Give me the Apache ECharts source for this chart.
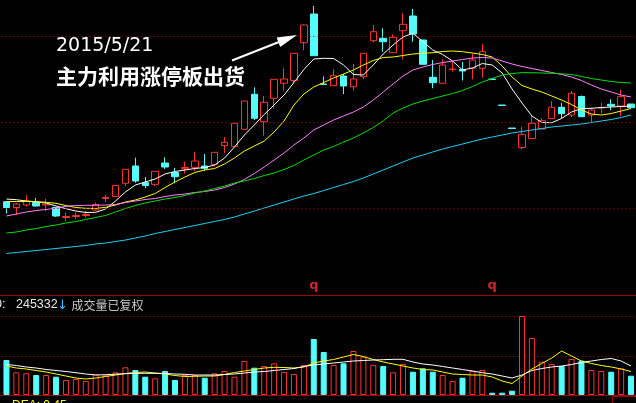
<!DOCTYPE html>
<html>
<head>
<meta charset="utf-8">
<script src="https://cdn.jsdelivr.net/npm/echarts@6/dist/echarts.min.js"></script>
<style>
html,body{margin:0;padding:0;background:#000;overflow:hidden;}
#c{width:636px;height:403px;}
</style>
</head>
<body>
<div id="c"></div>
<script>
// ---------------- data ----------------
const dates = ['2015/4/8','2015/4/9','2015/4/10','2015/4/13','2015/4/14','2015/4/15','2015/4/16','2015/4/17','2015/4/20','2015/4/21',
'2015/4/22','2015/4/23','2015/4/24','2015/4/27','2015/4/28','2015/4/29','2015/4/30','2015/5/4','2015/5/5','2015/5/6',
'2015/5/7','2015/5/8','2015/5/11','2015/5/12','2015/5/13','2015/5/14','2015/5/15','2015/5/18','2015/5/19','2015/5/20',
'2015/5/21','2015/5/22','2015/5/25','2015/5/26','2015/5/27','2015/5/28','2015/5/29','2015/6/1','2015/6/2','2015/6/3',
'2015/6/4','2015/6/5','2015/6/8','2015/6/9','2015/6/10','2015/6/11','2015/6/12','2015/6/15','2015/6/16','2015/6/17',
'2015/6/18','2015/6/19','2015/6/23','2015/6/24','2015/6/25','2015/6/26','2015/6/29','2015/6/30','2015/7/1','2015/7/2',
'2015/7/3','2015/7/6','2015/7/7','2015/7/8'];

// [open, close, low, high]
const ohlc = [
[9.83,9.25,8.65,9.83],[9.25,9.60,8.50,9.70],[9.50,9.90,9.35,10.50],[9.75,9.40,9.35,10.20],[9.50,9.60,8.90,10.10],
[9.25,8.40,8.30,9.30],[8.25,8.35,7.90,8.75],[8.35,8.45,8.10,8.75],[8.45,8.55,8.25,8.95],[9.00,9.55,8.90,9.75],
[10.15,10.25,9.80,10.50],[10.35,11.45,10.30,11.50],[11.67,13.07,11.40,13.10],[13.40,11.90,11.73,14.23],[11.73,11.45,11.17,12.30],
[11.57,12.87,11.40,12.90],[13.70,13.30,13.10,14.27],[12.75,12.33,11.67,13.20],[13.13,13.25,12.67,13.83],[13.27,13.90,12.90,14.77],
[13.40,13.17,12.93,14.60],[13.55,14.77,13.35,14.80],[15.45,15.77,14.67,16.30],[15.33,17.67,15.30,17.70],[17.07,19.90,17.05,19.90],
[20.57,18.17,18.00,21.27],[17.83,19.77,16.43,20.40],[20.17,22.07,19.15,22.10],[21.67,22.10,20.93,23.17],[21.95,24.67,21.60,24.70],
[25.73,27.50,25.00,27.55],[28.60,24.43,24.43,29.40],[21.60,21.55,21.50,22.35],[21.43,22.43,21.40,23.10],[22.40,21.40,20.60,22.60],
[21.33,22.10,20.93,23.60],[22.33,24.67,22.10,24.70],[25.93,26.83,25.77,27.50],[26.17,25.83,24.83,27.17],[24.73,26.27,24.73,26.57],
[26.93,27.57,24.07,28.70],[28.40,26.60,25.83,29.10],[26.00,23.57,23.57,26.00],[22.27,21.73,21.17,24.00],[21.67,23.50,21.67,24.07],
[23.05,23.10,22.83,23.85],[23.05,22.90,21.95,23.80],[23.17,24.00,22.07,24.67],[23.17,24.83,22.25,25.60],[22.10,22.05,22.05,22.10],
[19.50,19.45,19.45,19.50],[17.20,17.15,17.15,17.20],[15.25,16.57,15.10,17.33],[16.15,17.67,16.10,18.50],[17.10,17.93,17.10,18.17],
[18.15,19.27,18.15,19.90],[19.27,18.63,18.17,19.73],[18.50,20.67,18.27,20.90],[20.35,18.33,18.33,20.45],[18.50,19.00,17.70,19.25],
[19.20,19.25,18.67,19.70],[19.57,19.40,19.00,20.07],[19.40,20.33,18.40,21.00],[19.60,19.23,19.20,19.60]
];

const ma5 = [10.10,10.03,9.90,9.83,9.70,9.40,9.13,8.90,8.75,8.77,
9.10,9.90,10.80,11.50,11.80,12.10,12.60,12.85,13.00,13.15,
13.25,13.50,14.20,15.30,16.50,17.50,18.55,19.50,20.50,21.75,
23.05,24.10,24.17,24.15,23.50,22.55,22.50,23.50,24.60,25.50,
26.30,26.67,25.85,25.00,24.55,23.90,23.00,23.20,23.65,23.50,
22.70,21.10,19.70,18.40,17.75,17.73,18.15,18.80,19.15,19.17,
19.25,19.30,19.35,19.40];
const ma10 = [9.85,9.85,9.85,9.83,9.77,9.67,9.45,9.25,9.17,9.15,
9.27,9.50,9.80,10.00,10.30,10.65,11.25,11.80,12.30,12.75,
13.00,13.15,13.60,14.20,14.90,15.40,15.90,16.80,17.90,19.50,
20.60,21.30,21.75,22.20,22.60,23.00,23.50,23.95,24.25,24.30,
24.45,24.60,24.67,24.73,24.85,24.90,24.83,24.70,24.55,24.30,
23.40,22.30,21.45,21.10,20.80,20.40,20.00,19.55,19.00,18.60,
18.50,18.65,18.90,19.15];
const ma20 = [8.40,8.60,8.80,8.95,9.05,9.20,9.37,9.45,9.47,9.47,
9.50,9.55,9.75,9.90,10.05,10.15,10.35,10.50,10.60,10.75,
10.85,11.00,11.25,11.60,12.05,12.65,13.30,14.00,14.70,15.50,
16.20,17.00,17.50,18.00,18.40,18.80,19.30,20.00,20.80,21.60,
22.40,23.00,23.30,23.55,23.75,23.90,24.05,24.20,24.25,24.20,
23.90,23.60,23.35,23.15,22.95,22.75,22.55,22.30,21.95,21.50,
21.10,20.80,20.50,20.30];
const ma30 = [6.70,6.80,7.00,7.15,7.35,7.50,7.70,7.85,8.05,8.25,
8.45,8.80,9.15,9.45,9.70,9.90,10.10,10.25,10.45,10.70,
10.90,11.15,11.40,11.70,11.90,12.15,12.45,12.70,13.05,13.45,
14.00,14.50,15.00,15.35,15.80,16.20,16.70,17.25,17.90,18.70,
19.20,19.60,19.90,20.15,20.40,20.65,20.95,21.35,21.80,22.15,
22.50,22.65,22.73,22.73,22.70,22.67,22.62,22.55,22.35,22.15,
22.00,21.85,21.75,21.70];
const ma60 = [4.65,4.75,4.85,4.95,5.05,5.15,5.25,5.35,5.45,5.60,
5.70,5.85,6.00,6.20,6.40,6.65,6.85,7.05,7.25,7.45,
7.65,7.85,8.05,8.30,8.60,8.90,9.20,9.50,9.80,10.10,
10.40,10.65,10.95,11.25,11.55,11.85,12.20,12.60,13.00,13.40,
13.80,14.20,14.50,14.80,15.10,15.35,15.60,15.85,16.10,16.30,
16.50,16.70,16.85,17.00,17.15,17.30,17.40,17.50,17.60,17.75,
17.90,18.05,18.25,18.50];

const volume = [350000,227000,217000,200000,200000,183000,150000,160000,140000,207000,
197000,227000,277000,250000,183000,167000,240000,150000,200000,200000,
173000,217000,240000,183000,340000,273000,290000,317000,230000,210000,
300000,560000,430000,300000,317000,440000,383000,300000,290000,227000,
310000,233000,267000,233000,200000,140000,173000,240000,250000,23000,
23000,43000,790000,570000,333000,310000,290000,360000,343000,250000,
240000,233000,267000,193000];
const volMA5 = [290000,270000,260000,245000,230000,210000,190000,170000,160000,170000,
185000,200000,215000,225000,230000,220000,210000,195000,185000,187000,
190000,190000,205000,225000,240000,255000,270000,277000,275000,270000,
280000,320000,340000,355000,380000,405000,385000,355000,330000,310000,
290000,270000,255000,250000,230000,210000,205000,200000,200000,180000,
140000,115000,190000,260000,315000,370000,440000,390000,340000,315000,
295000,280000,260000,235000];
const volMA10 = [305000,295000,280000,270000,255000,245000,235000,223000,210000,200000,
203000,208000,213000,217000,217000,217000,215000,210000,207000,200000,
200000,200000,205000,210000,220000,230000,235000,245000,255000,265000,
285000,300000,310000,320000,330000,340000,345000,350000,353000,357000,
357000,330000,310000,300000,285000,270000,255000,240000,223000,210000,
190000,170000,200000,245000,265000,280000,290000,305000,325000,340000,
355000,365000,340000,290000];

const priceGridLevels = [9.2, 17.8, 26.4];
const rightsMarkers = [[31, 1.45], [49, 1.45]]; // "q" markers: [index, price level]
const annotationDate = '2015/5/21';
const annotationText = '主力利用涨停板出货';
const volumeLabelValue = '245332';
const volumeLabelText = '成交量已复权';

// ---------------- chart ----------------
const UP = '#ff3232', DOWN = '#54fcfc', GRIDRED = '#b00000', SEP = '#a00000';
const chart = echarts.init(document.getElementById('c'), null, {renderer: 'canvas'});

const volItems = volume.map((v, i) => {
  const up = ohlc[i][1] >= ohlc[i][0];
  return {
    value: v,
    itemStyle: up ? {color: '#000', borderColor: UP, borderWidth: 1}
                  : {color: DOWN, borderColor: DOWN, borderWidth: 1}
  };
});

function maLine(name, data, color, xi, yi) {
  return {
    name, type: 'line', data, xAxisIndex: xi, yAxisIndex: yi,
    symbol: 'none', smooth: false, silent: true,
    lineStyle: {color, width: 1}, z: 3
  };
}

const option = {
  backgroundColor: '#000',
  animation: false,
  grid: [
    {left: 1.5, width: 640, top: 0, height: 294},
    {left: 1.5, width: 640, top: 295, height: 100}
  ],
  xAxis: [
    {type: 'category', data: dates, gridIndex: 0, boundaryGap: true, show: false},
    {type: 'category', data: dates, gridIndex: 1, boundaryGap: true, show: false}
  ],
  yAxis: [
    {type: 'value', gridIndex: 0, min: 0.6, max: 30, show: false, scale: false},
    {type: 'value', gridIndex: 1, min: 0, max: 1000000, interval: 392000,
     axisLine: {show: false}, axisTick: {show: false}, axisLabel: {show: false},
     splitLine: {show: true, lineStyle: {color: GRIDRED, type: [1, 3], width: 1}}}
  ],
  series: [
    {
      name: 'K', type: 'candlestick', data: ohlc, xAxisIndex: 0, yAxisIndex: 0,
      barWidth: 7, silent: true,
      itemStyle: {color: '#000', color0: DOWN, borderColor: UP, borderColor0: DOWN, borderWidth: 1},
      markLine: {
        silent: true, symbol: ['none', 'none'], label: {show: false},
        lineStyle: {color: GRIDRED, type: [1, 3], width: 1},
        data: priceGridLevels.map(v => ({yAxis: v}))
      },
      z: 2
    },
    maLine('MA5', ma5, '#ffffff', 0, 0),
    maLine('MA10', ma10, '#ffff00', 0, 0),
    maLine('MA20', ma20, '#ff80ff', 0, 0),
    maLine('MA30', ma30, '#00e000', 0, 0),
    maLine('MA60', ma60, '#1ed2f5', 0, 0),
    {
      name: 'q', type: 'scatter', data: rightsMarkers, xAxisIndex: 0, yAxisIndex: 0,
      symbolSize: 1, itemStyle: {color: 'rgba(0,0,0,0)'}, silent: true,
      label: {show: true, position: 'inside', formatter: 'q', color: UP,
              fontSize: 13, fontWeight: 'bold', fontFamily: 'DejaVu Sans'}
    },
    {
      name: 'VOL', type: 'bar', data: volItems, xAxisIndex: 1, yAxisIndex: 1,
      barWidth: 6, silent: true, z: 2
    },
    maLine('VMA5', volMA5, '#ffff00', 1, 1),
    maLine('VMA10', volMA10, '#ffffff', 1, 1)
  ],
  graphic: [
    {type: 'line', z: 100, shape: {x1: 0, y1: 295.5, x2: 636, y2: 295.5}, style: {stroke: SEP, lineWidth: 1}},
    {type: 'line', z: 100, shape: {x1: 0, y1: 395.5, x2: 636, y2: 395.5}, style: {stroke: SEP, lineWidth: 1}},
    {type: 'text', z: 100, x: 56, y: 46,
     style: {text: annotationDate, fill: '#ffffff', fontSize: 19, fontFamily: 'DejaVu Sans',
             textVerticalAlign: 'middle', textAlign: 'left'}},
    {type: 'text', z: 100, x: 56, y: 76,
     style: {text: annotationText, fill: '#ffffff', fontSize: 21, fontWeight: 'bold',
             fontFamily: 'Noto Sans CJK SC', textVerticalAlign: 'middle', textAlign: 'left'}},
    {type: 'line', z: 100, shape: {x1: 232, y1: 60.5, x2: 284, y2: 40}, style: {stroke: '#ffffff', lineWidth: 2}},
    {type: 'polygon', z: 100, shape: {points: [[297, 35], [280.2, 47], [276.6, 37.6]]}, style: {fill: '#ffffff'}},
    {type: 'text', z: 100, x: -5, y: 305,
     style: {text: '0:', fill: '#e8e8e8', fontSize: 12.5, fontFamily: 'Liberation Sans', textVerticalAlign: 'middle'}},
    {type: 'text', z: 100, x: 16, y: 305,
     style: {text: volumeLabelValue, fill: '#e8e8e8', fontSize: 12.5, fontFamily: 'Liberation Sans', textVerticalAlign: 'middle'}},
    {type: 'text', z: 100, x: 57, y: 306,
     style: {text: '↓', fill: '#40c0ff', fontSize: 13, fontFamily: 'DejaVu Sans', textVerticalAlign: 'middle'}},
    {type: 'text', z: 100, x: 71.5, y: 305.5,
     style: {text: volumeLabelText, fill: '#c8c8c8', fontSize: 12, fontFamily: 'Noto Sans CJK SC', textVerticalAlign: 'middle'}},
    {type: 'text', z: 100, x: 12, y: 400,
     style: {text: 'DEA: 0.45', fill: '#ffff00', fontSize: 12, fontFamily: 'Liberation Sans', textVerticalAlign: 'top'}},
    {type: 'rect', z: 100, shape: {x: 612.5, y: 396.5, width: 40, height: 20}, style: {fill: '#000', stroke: SEP, lineWidth: 1}}
  ]
};
chart.setOption(option);
</script>
</body>
</html>
